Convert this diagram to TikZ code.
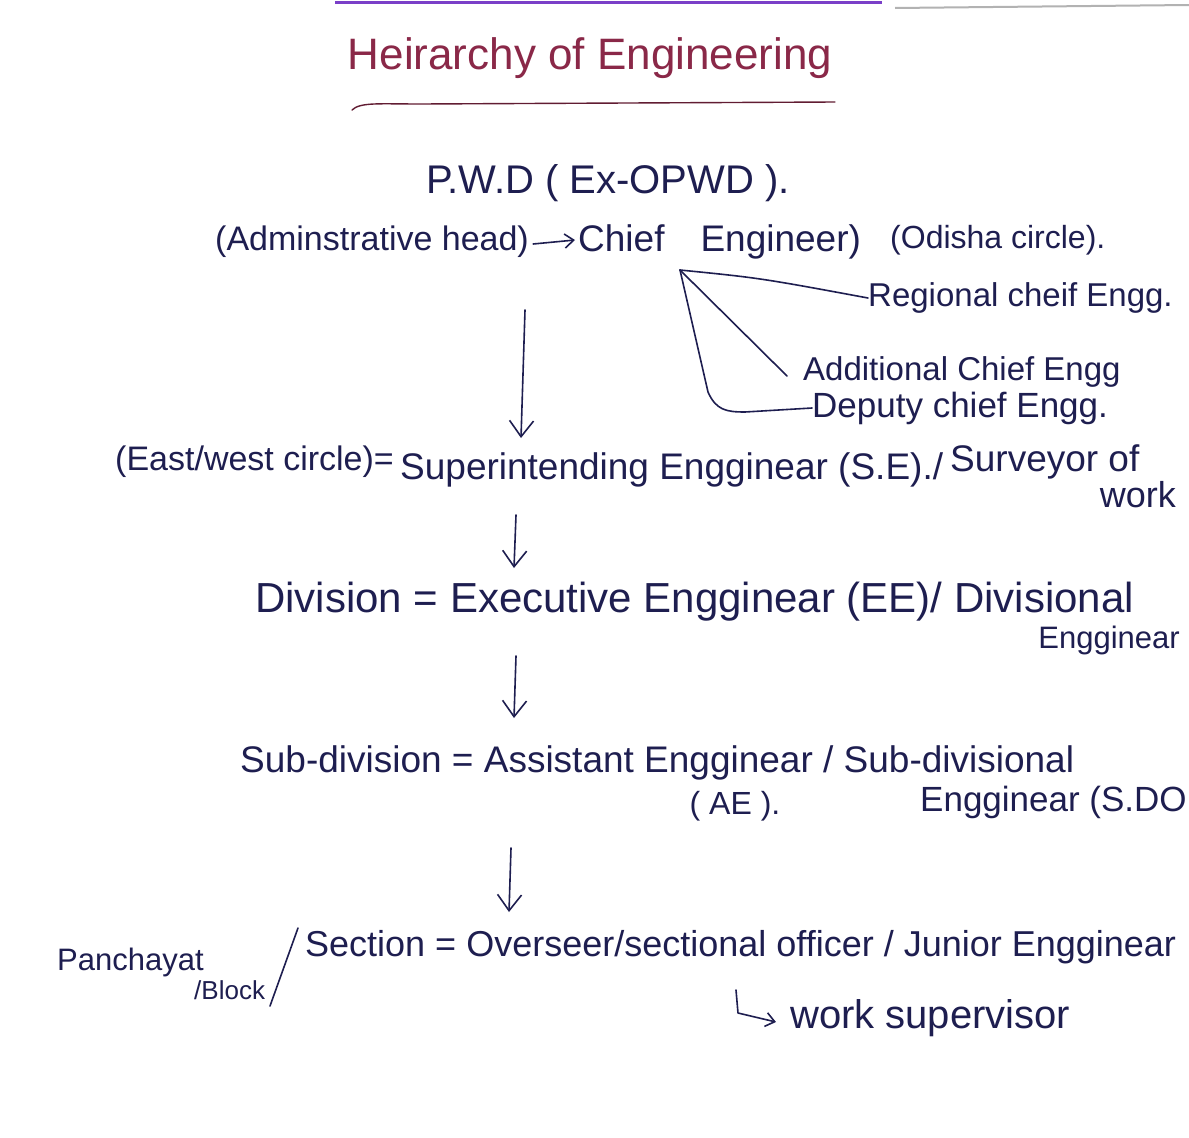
\documentclass[tikz,border=0pt]{standalone}
\usepackage{fontspec}
\setmainfont{Liberation Sans}
\usetikzlibrary{arrows.meta}
\definecolor{ink}{HTML}{1E1E50}
\definecolor{titleink}{HTML}{8A2848}
\definecolor{topline}{HTML}{7A3FC8}
\newcommand\myfs[1]{\fontsize{#1}{#1}\selectfont}
\tikzset{
  txt/.style={text=ink, inner sep=0pt, font=\myfs{30}},
  pen/.style={draw=ink, line width=1.6pt, line cap=round, line join=round},
  downarrow/.style={pen, -{Straight Barb[length=16pt,width=24pt,line width=1.6pt]}},
  sidearrow/.style={pen, -{Straight Barb[length=9pt,width=14pt,line width=1.6pt]}}
}
\begin{document}
\begin{tikzpicture}[x=1pt,y=-1pt]
\useasboundingbox[fill=white] (0,0) rectangle (1189,1138);
% top edge lines
\draw[topline, line width=3pt] (335,2) -- (882,2);
\draw[gray!60, line width=2pt] (895,8) -- (1189,5);
% title
\node[txt, text=titleink, font=\myfs{44}] (title) at (590,58) {Heirarchy of Engineering};
\draw[titleink!70!black, line width=1.4pt, line cap=round] (352,110) .. controls (360,102) and (380,104) .. (420,104) -- (835,102);
% PWD
\node[txt, font=\myfs{40}] (pwd) at (608,183) {P.W.D ( Ex-OPWD ).};
% row 2
\node[txt, anchor=west, font=\myfs{34}] (admin) at (215,242) {(Adminstrative head)};
\node[txt, anchor=west, font=\myfs{37}] (chief) at (578,242) {Chief\hspace{36pt}Engineer)};
\node[txt, anchor=west, font=\myfs{32}] (odisha) at (890,240) {(Odisha circle).};
\draw[sidearrow] (admin.east) ++(4,2) -- ([xshift=-3pt,yshift=2pt]chief.west);
% branches
\coordinate (cbr) at (680,270);
\node[txt, anchor=west, font=\myfs{33}] (regional) at (868,298) {Regional cheif Engg.};
\node[txt, anchor=west, font=\myfs{33}] (additional) at (803,372) {Additional Chief Engg};
\node[txt, anchor=west, font=\myfs{35}] (deputy) at (812,408) {Deputy chief Engg.};
\draw[pen] (cbr) .. controls (760,278) .. (regional.west);
\draw[pen] (cbr) -- ([xshift=-16pt,yshift=-4pt]additional.west);
\draw[pen] (cbr) -- (708,392) .. controls (716,410) and (726,412) .. (745,412) -- (deputy.west);
% arrow 1
\coordinate (a1s) at (525,310);
\coordinate (a1e) at (521,438);
\draw[downarrow] (a1s) -- (a1e);
% row 3
\node[txt, anchor=west, font=\myfs{34}] (east) at (115,462) {(East/west circle)=};
\node[txt, anchor=west, font=\myfs{37}] (se) at (400,470) {Superintending Engginear (S.E)./};
\node[txt, anchor=west, font=\myfs{37}] (surveyor) at (950,462) {Surveyor of};
\node[txt, anchor=east, font=\myfs{36}] (work) at (1176,495) {work};
% arrow 2
\coordinate (a2s) at (516,515);
\coordinate (a2e) at (514,568);
\draw[downarrow] (a2s) -- (a2e);
% row 4
\node[txt, anchor=west, font=\myfs{42}] (div) at (255,602) {Division = Executive Engginear (EE)/ Divisional};
\node[txt, anchor=east, font=\myfs{31}] (div2) at (1180,640) {Engginear};
% arrow 3
\coordinate (a3s) at (516,656);
\coordinate (a3e) at (514,718);
\draw[downarrow] (a3s) -- (a3e);
% row 5
\node[txt, anchor=west, font=\myfs{37}] (sub) at (240,763) {Sub-division = Assistant Engginear / Sub-divisional};
\node[txt, font=\myfs{32}] (ae) at (735,806) {( AE ).};
\node[txt, anchor=west, font=\myfs{35}] (sdo) at (920,802) {Engginear (S.DO};
% arrow 4
\coordinate (a4s) at (511,848);
\coordinate (a4e) at (509,912);
\draw[downarrow] (a4s) -- (a4e);
% row 6
\node[txt, anchor=west, font=\myfs{31}] (panch) at (57,962) {Panchayat};
\node[txt, anchor=west, font=\myfs{26}] (block) at (194,990) {/Block};
\draw[pen] (270,1006) -- (298,928);
\node[txt, anchor=west, font=\myfs{36}] (section) at (305,947) {Section = Overseer/sectional officer / Junior Engginear};
% row 7
\coordinate (lstart) at (736,990);
\node[txt, anchor=west, font=\myfs{40}] (supervisor) at (790,1018) {work supervisor};
\draw[sidearrow] (lstart) -- (738,1013) -- ([xshift=-14pt,yshift=-4pt]supervisor.west);
\end{tikzpicture}
\end{document}
